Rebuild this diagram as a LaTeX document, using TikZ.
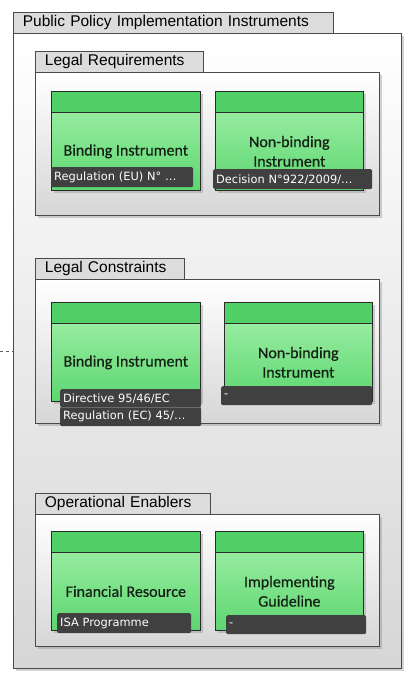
\documentclass[tikz,border=0pt]{standalone}
\usepackage{fontspec}
\setmainfont{Liberation Sans}
\newfontfamily\calfont[FakeBold=0.4]{Carlito}
\newfontfamily\lblfont{DejaVu Sans}
\usetikzlibrary{shadows}
\definecolor{hdrgreen}{HTML}{52D068}
\definecolor{gtop}{HTML}{A6F2AC}
\definecolor{gbot}{HTML}{5CD670}
\definecolor{gborder}{HTML}{2A2A2A}
\definecolor{gtext}{HTML}{142014}
\definecolor{framegray}{HTML}{4A4A4A}
\definecolor{tabgray}{HTML}{DCDCDC}
\definecolor{bodybot}{HTML}{D6D6D6}
\definecolor{lblgray}{HTML}{404040}
\definecolor{lblsep}{HTML}{6A6A6A}
\definecolor{dashgray}{HTML}{606060}
\tikzset{
  tabbox/.style={draw=framegray, fill=tabgray, line width=0.8pt, anchor=north west,
    inner xsep=9.5pt, inner ysep=0pt, minimum height=21pt, align=left,
    font=\fontsize{15.5}{18}\selectfont},
  cbody/.style={draw=framegray, top color=white, bottom color=bodybot, line width=0.8pt,
    anchor=north west, inner sep=0pt,
    drop shadow={shadow xshift=2.5pt, shadow yshift=-2.5pt, opacity=0.35}},
  gbox/.style={draw=gborder, top color=gtop, bottom color=gbot, line width=0.7pt,
    anchor=north west, inner sep=0pt, minimum height=99pt,
    drop shadow={shadow xshift=2.5pt, shadow yshift=-2.5pt, opacity=0.35}},
  gline/.style={draw=gborder, line width=0.7pt},
  gtxt/.style={text=gtext, align=center, font=\calfont\fontsize{16}{19.5}\selectfont},
  lbl/.style={fill=lblgray, rounded corners=1.5pt, anchor=north west, text=white,
    inner xsep=3pt, inner ysep=0pt, align=left,
    font=\lblfont\fontsize{11.4}{13}\selectfont},
  dashline/.style={draw=dashgray, line width=0.8pt, dash pattern=on 3pt off 3pt}
}
\newcommand\greenbox[6]{%
  \node[gbox, minimum width=#4pt] (#1) at (#2,#3) {};
  \fill[hdrgreen] (#1.north west) rectangle ([yshift=-21pt]#1.north east);
  \draw[gline] ([yshift=-21pt]#1.north west) -- ([yshift=-21pt]#1.north east);
  \draw[gline] (#1.north west) rectangle (#1.south east);
  \node[gtxt] (#1t) at ([yshift=-10.5pt]#1.center) {#5};
}
\begin{document}
\begin{tikzpicture}[x=1pt,y=-1pt]
\useasboundingbox (0,0) rectangle (404,677);
% outer container
\node[cbody, minimum width=388pt, minimum height=635pt] (ob) at (13,33) {};
\node[tabbox, text width=301pt] (otab) at (13,12) {Public Policy Implementation Instruments};
% Legal Requirements
\node[cbody, minimum width=344pt, minimum height=143pt] (lrb) at (35,72) {};
\node[tabbox, text width=149pt] (lrtab) at (35,51) {Legal Requirements};
% Legal Constraints
\node[cbody, minimum width=344pt, minimum height=144pt] (lcb) at (35,279) {};
\node[tabbox, text width=130pt] (lctab) at (35,258) {Legal Constraints};
% Operational Enablers
\node[cbody, minimum width=344pt, minimum height=132pt] (oeb) at (35,514) {};
\node[tabbox, text width=156pt] (oetab) at (35,493) {Operational Enablers};
% green boxes
\greenbox{lra}{51}{91}{149}{Binding Instrument}{}
\greenbox{lrn}{215}{91}{148}{Non-binding\\Instrument}{}
\greenbox{lca}{51}{302}{149}{Binding Instrument}{}
\greenbox{lcn}{224}{302}{148}{Non-binding\\Instrument}{}
\greenbox{oea}{51}{531}{149}{Financial Resource}{}
\greenbox{oen}{215}{531}{148}{Implementing\\Guideline}{}
% labels
\node[lbl, minimum height=20pt, text width=136pt] (lral) at (51,167) {Regulation (EU) N° …};
\node[lbl, minimum height=20pt, text width=153pt] (lrnl) at (213,169) {Decision N°922/2009/…};
\node[lbl, minimum height=18pt, text width=135pt] (lcal1) at (60,389) {Directive 95/46/EC};
\node[lbl, minimum height=19pt, text width=135pt] (lcal2) at (60,407) {Regulation (EC) 45/…};
\draw[lblsep, line width=0.6pt] (lcal1.south west) -- (lcal1.south east);
\node[lbl, minimum height=19pt, text width=145pt] (lcnl) at (221,386) {-};
\node[lbl, minimum height=20pt, text width=128pt] (oeal) at (57,613) {ISA Programme};
\node[lbl, minimum height=19pt, text width=134pt] (oenl) at (226,615) {-};
% dashed connector
\coordinate (dl) at (0,351);
\draw[dashline] (dl) -- (dl -| ob.west);
\end{tikzpicture}
\end{document}
